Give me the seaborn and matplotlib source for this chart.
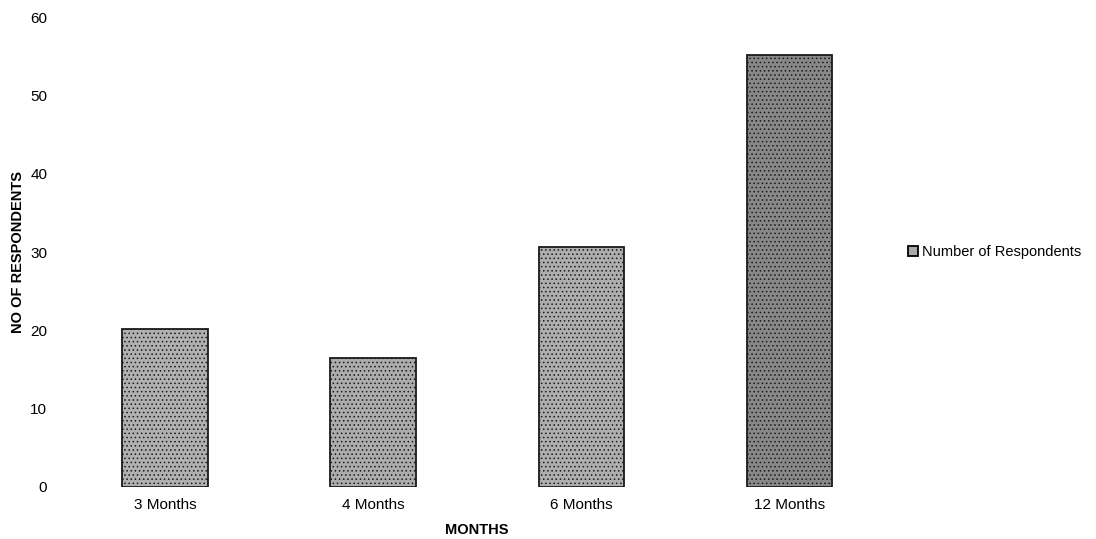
import seaborn as sns
import matplotlib.pyplot as plt
import pandas as pd

# data
months = ["3 Months", "4 Months", "6 Months", "12 Months"]
respondents = [20.2, 16.5, 30.6, 55.2]
series = "Number of Respondents"
bar_greys = ["#b0b0b0", "#acacac", "#aeaeae", "#888888"]

df = pd.DataFrame({"month": months, "n": respondents, "series": series})

sns.set_style("white")
plt.rcParams["font.family"] = ["Liberation Sans", "DejaVu Sans"]
plt.rcParams["text.color"] = "black"
plt.rcParams["axes.labelcolor"] = "black"
plt.rcParams["hatch.linewidth"] = 0.6

fig = plt.figure(figsize=(10.96, 5.39), dpi=100)
ax = fig.add_axes([0.0557, 0.0965, 0.7593, 0.8715])

sns.barplot(data=df, x="month", y="n", hue="series", palette=["#aaaaaa"],
            width=0.41, edgecolor="black", linewidth=1.3, ax=ax)

for p, c in zip(ax.patches, bar_greys):
    p.set_facecolor(c)
    p.set_hatch("....")
    p.set_edgecolor("#1a1a1a")

ax.set_ylim(0, 60)
ax.set_xlim(-0.5, 3.5)
ax.set_yticks(range(0, 61, 10))
ax.tick_params(axis="both", length=0, labelsize=11, colors="black")
ax.tick_params(axis="y", pad=10)
ax.tick_params(axis="x", pad=8)
for s in ax.spines.values():
    s.set_visible(False)

ax.set_xlabel("MONTHS", fontsize=10.5, fontweight="bold", labelpad=8)
ax.set_ylabel("NO OF RESPONDENTS", fontsize=10.5, fontweight="bold")
ax.yaxis.set_label_coords(-0.043, 0.5)

ax.legend(loc="center left", bbox_to_anchor=(1.0, 0.5), frameon=False,
          fontsize=10.5, handlelength=0.7, handleheight=0.7, handletextpad=0.3,
          borderpad=0.5, labelcolor="black")

fig.savefig("out.png", dpi=100)
